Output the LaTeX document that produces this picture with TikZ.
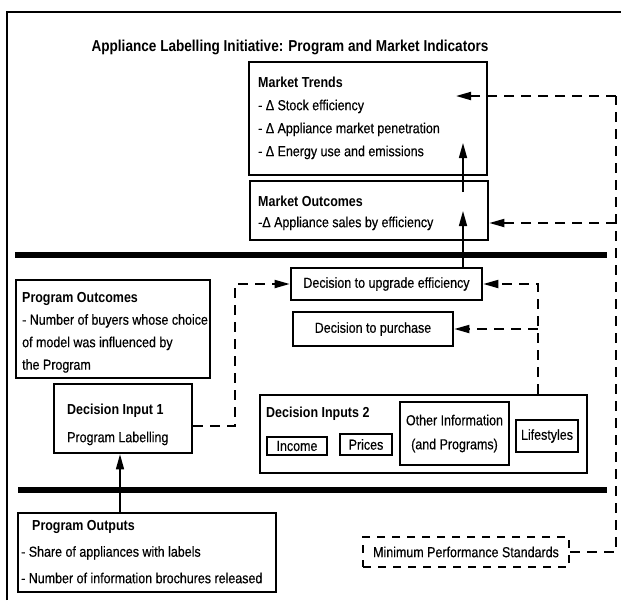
\documentclass[tikz,border=0pt]{standalone}
\usepackage{fontspec}
\setmainfont{Liberation Sans}[FakeStretch=0.86, UprightFeatures={FakeBold=0.4}]
\usetikzlibrary{arrows.meta}
\begin{document}
\begin{tikzpicture}[x=1pt,y=-1pt,
  every node/.style={font=\fontsize{14.5}{17}\selectfont},
  tbox/.style={draw, line width=2.6pt, inner sep=0pt},
  nbox/.style={draw, line width=1.5pt, inner sep=0pt},
  txt/.style={inner sep=0pt, anchor=north west, align=left},
  arr/.style={-{Triangle[length=15pt,width=8pt]}},
  sol/.style={line width=1.5pt},
  dsh/.style={line width=1.8pt, dash pattern=on 10pt off 7pt},
  mrule/.style={line width=6pt},
  frame/.style={line width=1.2pt}]
\useasboundingbox (0,0) rectangle (621,606);
\fill[white] (0,0) rectangle (621,606);
% frame
\draw[frame] (7,600) -- (7,12) -- (621,12);
% title
\node[font=\bfseries\fontsize{15.8}{18}\selectfont] (title) at (290,47)
  {Appliance Labelling Initiative: Program and Market Indicators};
% market boxes
\node[tbox, minimum width=238, minimum height=113] (trends) at (368,118.5) {};
\node[txt, font=\fontsize{14.5}{23}\selectfont] (trendsT) at (258,76)
  {\rule{0pt}{11pt}\textbf{Market Trends}\\- Δ Stock efficiency\\- Δ Appliance market penetration\\- Δ Energy use and emissions};
\node[tbox, minimum width=238, minimum height=59] (mo) at (369,210.5) {};
\node[txt, font=\fontsize{14.5}{21}\selectfont] (moT) at (258,195)
  {\rule{0pt}{11pt}\textbf{Market Outcomes}\\-Δ Appliance sales by efficiency};
% rules
\draw[mrule] (15,255) -- (607,255);
\draw[mrule] (18,490) -- (607,490);
% program outcomes
\node[draw, line width=1.6pt, inner sep=0pt, minimum width=194, minimum height=98] (pocm) at (113,329) {};
\node[txt, font=\fontsize{14.5}{22.5}\selectfont] (pocmT) at (22,291)
  {\rule{0pt}{11pt}\textbf{Program Outcomes}\\- Number of buyers whose choice\\of model was influenced by\\the Program};
% decision input 1
\node[tbox, minimum width=138, minimum height=69] (di1) at (123,418.5) {};
\node[txt, font=\fontsize{14.5}{28}\selectfont] (di1T) at (67,403)
  {\rule{0pt}{11pt}\textbf{Decision Input 1}\\Program Labelling};
% decisions
\node[tbox, minimum width=191, minimum height=32] (up) at (386.5,284) {Decision to upgrade efficiency};
\node[tbox, minimum width=160, minimum height=34] (dp) at (373,329) {Decision to purchase};
% decision inputs 2
\node[tbox, minimum width=327, minimum height=78] (di2) at (423.5,434) {};
\node[txt] (di2T) at (266,406) {\rule{0pt}{11pt}\textbf{Decision Inputs 2}};
\node[nbox, minimum width=60, minimum height=18] (inc) at (297,446) {Income};
\node[nbox, minimum width=52, minimum height=21] (pri) at (366,444.5) {Prices};
\node[nbox, minimum width=109, minimum height=63, align=center, font=\fontsize{14.5}{24}\selectfont] (oth) at (454.5,433.5) {Other Information\\(and Programs)};
\node[nbox, minimum width=62, minimum height=32] (lif) at (547,436) {Lifestyles};
% program outputs
\node[tbox, minimum width=258, minimum height=79] (pout) at (147,552.5) {};
\node[txt, font=\fontsize{14.5}{26.5}\selectfont] (poutT) at (21,519)
  {\rule{0pt}{11pt}\hspace*{11pt}\textbf{Program Outputs}\\- Share of appliances with labels\\- Number of information brochures released};
% minimum performance standards
\node[draw, line width=2.2pt, dash pattern=on 8pt off 7pt, inner sep=0pt, minimum width=206, minimum height=30] (mps) at (466,552) {Minimum Performance Standards};
% coordinates
\coordinate (ax1) at (120,0);
\coordinate (ax2) at (463,0);
\coordinate (t1) at (463,211);
\coordinate (s2) at (463,192);
\coordinate (t2) at (463,143);
\coordinate (rc1) at (616,96);
\coordinate (rc2) at (616,223);
\coordinate (rc3) at (616,552);
\coordinate (t3) at (456,96);
\coordinate (lc1) at (235,426);
\coordinate (lc2) at (235,284);
\coordinate (rc4) at (538,284);
% solid arrows
\draw[sol, arr] (ax1 |- pout.north) -- (ax1 |- di1.south);
\draw[sol, arr] (ax2 |- up.north) -- (t1);
\draw[sol, arr] (s2) -- (t2);
% dashed connectors
\draw[dsh] (mps.east) -- (rc3) -- (rc1);
\draw[dsh, arr] (rc1) -- (t3);
\draw[dsh, arr] (rc2) -- (rc2 -| mo.east);
\draw[dsh, arr] (di1.east |- lc1) -- (lc1) -- (lc2) -- (up.west);
\draw[dsh, arr] (rc4 |- di2.north) -- (rc4) -- (up.east);
\draw[dsh, arr] (rc4 |- dp.east) -- (dp.east);
\end{tikzpicture}
\end{document}
